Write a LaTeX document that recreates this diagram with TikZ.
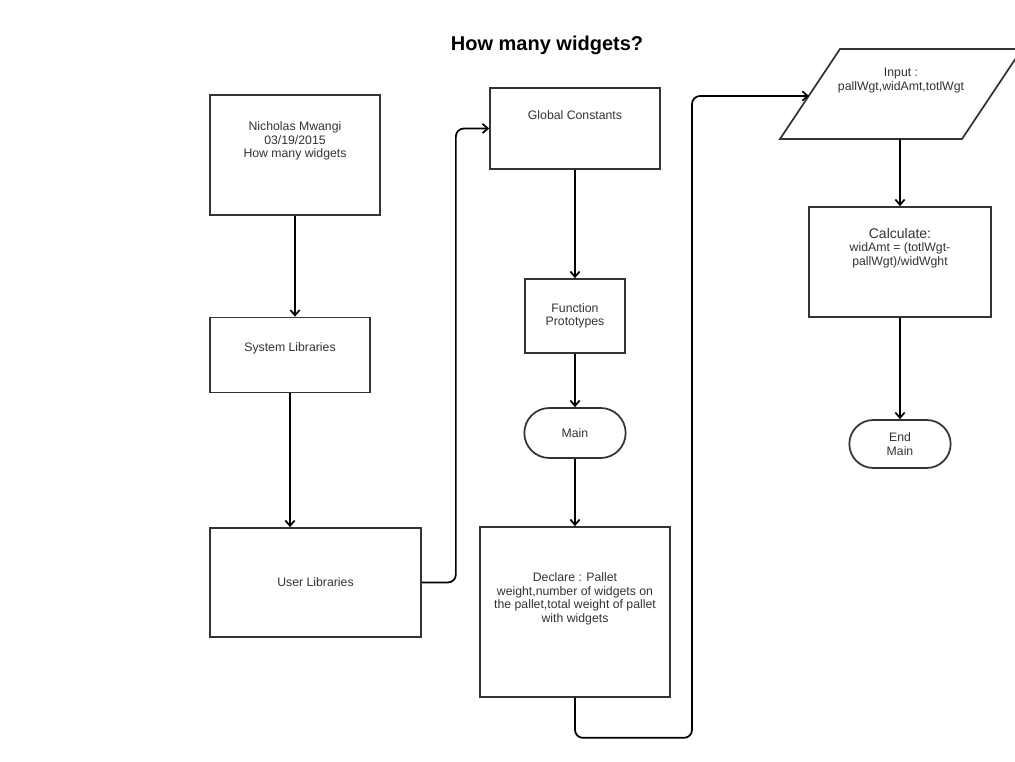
\documentclass[tikz,border=0pt]{standalone}
\usepackage{fontspec}
\setmainfont{Liberation Sans}
\usepackage{tikz}
\usetikzlibrary{shapes.misc}
\usetikzlibrary{arrows.meta}
\usetikzlibrary{calc}
\definecolor{boxgray}{rgb}{0.2,0.2,0.2}
\definecolor{textgray}{rgb}{0.2,0.2,0.2}
\tikzset{stepbox/.style={rectangle,draw=boxgray,fill=white,line width=1.3pt,inner sep=2pt,
font=\fontsize{9.2}{10.2}\selectfont, text=textgray, align=center},
terminal/.style={stepbox,shape=rounded rectangle},
ioline/.style={draw=boxgray,fill=white,line width=1.3pt,line join=miter},
boxtext/.style={font=\fontsize{9.2}{10.2}\selectfont, text=textgray, align=center},
flow/.style={->,line width=1.3pt,draw=black},
>={Straight Barb[length=4pt,width=7pt]}}

\begin{document}
\begin{tikzpicture}[x=0.75pt,y=-0.75pt]
  \useasboundingbox (0,0) rectangle (1015,762);
  \clip (0,0) rectangle (1015,762);

  \node (title) at (547,45) [font=\bfseries\fontsize{15}{18}\selectfont] {How many widgets?};

  % left column
  \node (head) at (295,155) [stepbox, minimum width=127.5pt, minimum height=90pt,
    label={[boxtext,yshift=10.5pt]center:{Nicholas Mwangi\\03/19/2015\\How many widgets}}] {};
  \node (syslib) at (290,355) [stepbox, minimum width=120pt, minimum height=56.25pt,
    label={[boxtext,yshift=5.25pt]center:System Libraries}] {};
  \node (userlib) at (315.5,582.5) [stepbox, minimum width=158.25pt, minimum height=81.75pt] {User Libraries};

  % middle column
  \node (global) at (575,128.5) [stepbox, minimum width=127.5pt, minimum height=60.75pt,
    label={[boxtext,yshift=10pt]center:Global Constants}] {};
  \node (proto) at (575,316) [stepbox, minimum width=75pt, minimum height=55.5pt] {Function\\Prototypes};
  \node (main) at (575,433) [terminal, minimum width=80pt, minimum height=37.5pt] {Main};
  \node (declare) at (575,612) [stepbox, minimum width=142.5pt, minimum height=127.5pt,
    label={[boxtext,yshift=10pt]center:{Declare : Pallet\\weight,number of widgets on\\the pallet,total weight of pallet\\with widgets}}] {};

  % right column
  \draw [ioline] (780,139) -- (840,49) -- (1022,49) -- (962,139) -- cycle;
  \coordinate (inleft) at (809,96);
  \coordinate (inbot) at (900,139);
  \node (input) at (901,80.5) [boxtext] {Input :\\pallWgt,widAmt,totlWgt};
  \node (calc) at (900,262) [stepbox, minimum width=136.5pt, minimum height=82.5pt,
    label={[boxtext,yshift=10.5pt]center:{{\fontsize{10.5}{12}\selectfont Calculate:}\\widAmt = (totlWgt-\\pallWgt)/widWght}}] {};
  \node (endmain) at (900,444) [terminal, minimum width=80pt, minimum height=36pt] {End\\Main};

\draw
(head.south)
   edge [flow]
(head.south |- syslib.north);
\draw
(syslib.south)
   edge [flow]
(syslib.south |- userlib.north);
\draw [flow,rounded corners=6pt]
(userlib.east) -- ++(34,0) |- (global.west);
\draw
(global.south)
   edge [flow]
(proto.north);
\draw
(proto.south)
   edge [flow]
(main.north);
\draw
(main.south)
   edge [flow]
(declare.north);
\draw [flow,rounded corners=6pt]
(declare.south) -- ++(0,40) -- ++(117,0) |- (inleft);
\draw
(inbot)
   edge [flow]
(inbot |- calc.north);
\draw
(calc.south)
   edge [flow]
(endmain.north);
\end{tikzpicture}
\end{document}
